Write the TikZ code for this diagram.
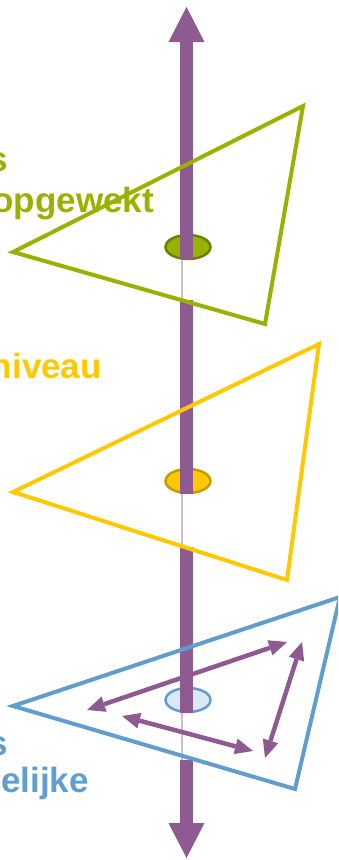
\documentclass[tikz,border=0pt]{standalone}
\usepackage{fontspec}
\setmainfont{Liberation Sans}
\usetikzlibrary{arrows.meta}
\usetikzlibrary{shapes.geometric}
\definecolor{lgreen}{RGB}{153,178,0}
\definecolor{dgreen}{RGB}{107,128,0}
\definecolor{lyellow}{RGB}{255,200,0}
\definecolor{dyellow}{RGB}{196,156,0}
\definecolor{lblue}{RGB}{95,158,206}
\definecolor{pblue}{RGB}{221,233,242}
\definecolor{axiscol}{RGB}{143,90,145}
\definecolor{axisthin}{RGB}{210,188,212}

\begin{document}
\begin{tikzpicture}[x=1pt, y=-1pt,
		tri/.style	= {line width=4pt, line join=miter},
		disc/.style	= {ellipse, line width=2.5pt, minimum width=45pt, minimum height=24pt, inner sep=0},
		shaft/.style	= {draw=axiscol, line width=13pt},
		head/.style	= {-{Triangle[length=35pt, width=36pt, line width=0pt]}},
		rot/.style	= {draw=axiscol, line width=4.5pt, {Triangle[length=18pt, width=16pt, line width=0pt]}-{Triangle[length=18pt, width=16pt, line width=0pt]}},
		lbl/.style	= {font=\fontsize{35}{42}\selectfont\bfseries, inner sep=0, anchor=base east}
		]
		\useasboundingbox (0,0) rectangle (338,860);
		\clip (0,0) rectangle (338,860);
		
		
		% === === Points === ===
		\coordinate	(top)	at	(186.5, 7);
		\coordinate	(gcut)	at	(186.5, 259);
		\coordinate	(gbot)	at	(186.5, 300);
		\coordinate	(ycut)	at	(186.5, 494);
		\coordinate	(ybot)	at	(186.5, 547);
		\coordinate	(bcut)	at	(186.5, 713);
		\coordinate	(bbot)	at	(186.5, 760);
		\coordinate	(bottom)	at	(186.5, 858);
		
		\coordinate	(g1)	at	(13, 252);
		\coordinate	(g2)	at	(303, 106);
		\coordinate	(g3)	at	(265, 324);
		\coordinate	(y1)	at	(13, 492);
		\coordinate	(y2)	at	(319, 344);
		\coordinate	(y3)	at	(287, 580);
		\coordinate	(b1)	at	(13, 706);
		\coordinate	(b2)	at	(340, 597);
		\coordinate	(b3)	at	(295, 789);
		
		\coordinate	(r1a)	at	(87, 710);
		\coordinate	(r1b)	at	(287, 642);
		\coordinate	(r2a)	at	(122, 716);
		\coordinate	(r2b)	at	(253, 751);
		\coordinate	(r3a)	at	(302, 642);
		\coordinate	(r3b)	at	(265, 758);
		
		
		% === === Nodes === ===
		\draw[axisthin, line width=1.5pt]	([xshift=-4.5pt]gcut)	--	([xshift=-4.5pt]bbot);
		
		\node[disc, draw=dgreen, fill=lgreen]	(gdisc)	at	(188, 247)	{};
		\node[disc, draw=dyellow, fill=lyellow]	(ydisc)	at	(188, 481)	{};
		\node[disc, draw=lblue, fill=pblue]	(bdisc)	at	(188, 700)	{};
		
		\node[lbl, text=lgreen]	(gs)	at	(8, 171)	{s};
		\node[lbl, text=lgreen]	(gword)	at	(154, 212)	{opgewekt};
		\node[lbl, text=lyellow]	(yword)	at	(102, 378)	{niveau};
		\node[lbl, text=lblue]	(bs)	at	(8, 755)	{s};
		\node[lbl, text=lblue]	(bword)	at	(89, 792)	{elijke};
		
		
		% === === Lines === ===
		\draw[shaft, head]	(gcut)	--	(top);
		\draw[shaft]	(gbot)	--	(ycut);
		\draw[shaft]	(ybot)	--	(bcut);
		\draw[shaft, head]	(bbot)	--	(bottom);
		
		\draw[tri, lgreen]	(g1)	--	(g2)	--	(g3)	--	cycle;
		\draw[tri, lyellow]	(y1)	--	(y2)	--	(y3)	--	cycle;
		\draw[tri, lblue]	(b1)	--	(b2)	--	(b3)	--	cycle;
		
		\draw[rot]	(r1a)	--	(r1b);
		\draw[rot]	(r2a)	--	(r2b);
		\draw[rot]	(r3a)	--	(r3b);
		
		
	\end{tikzpicture}
\end{document}
